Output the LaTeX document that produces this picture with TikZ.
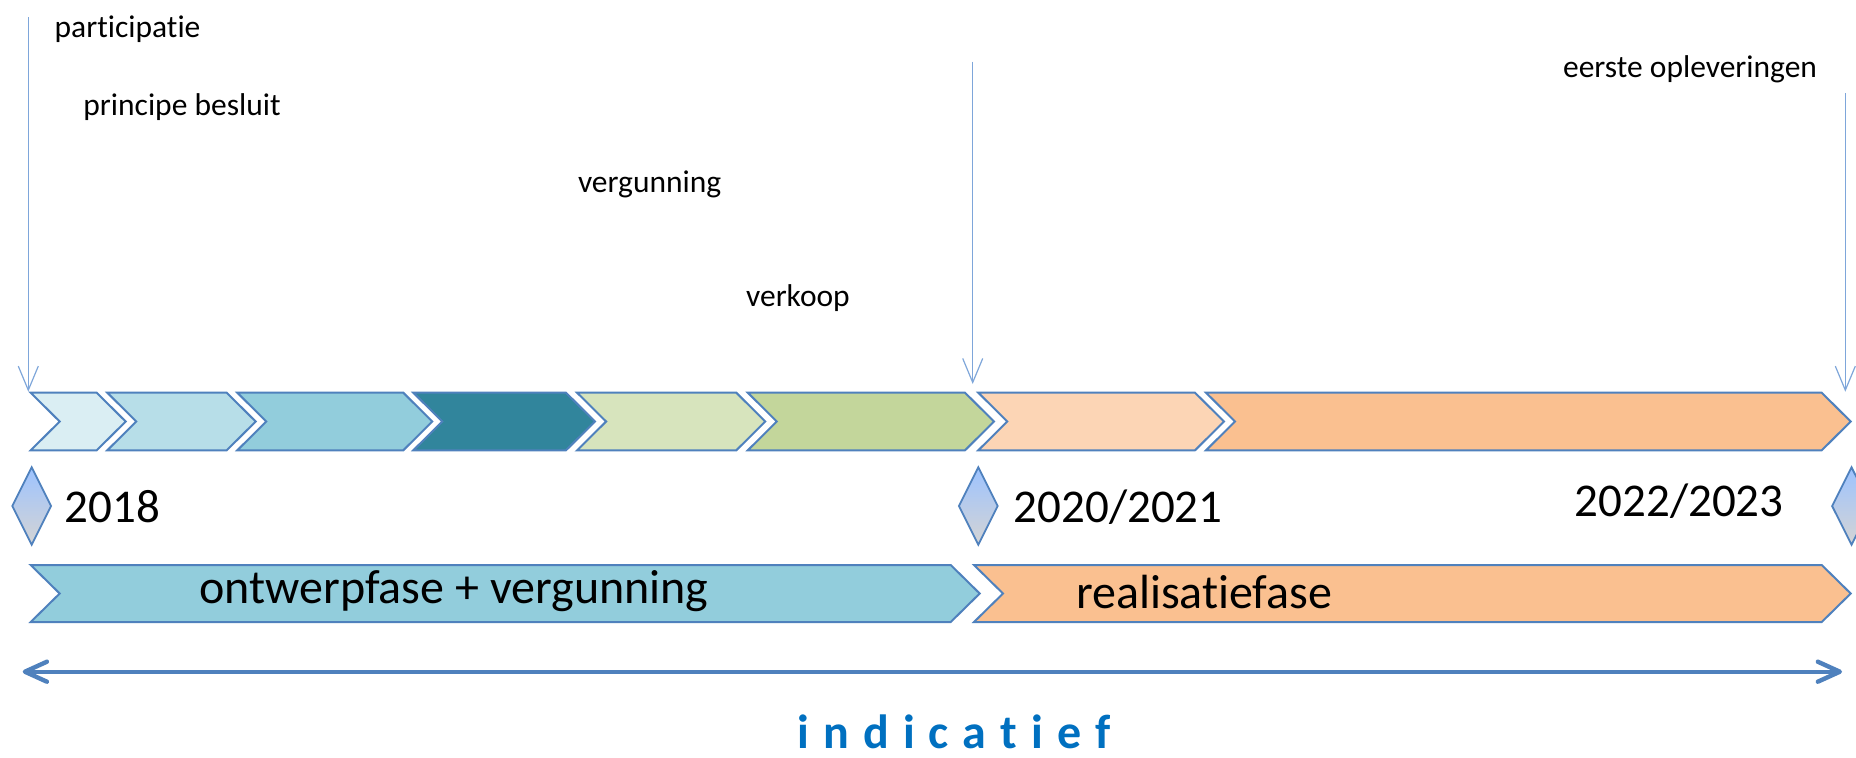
\documentclass[tikz,border=0pt]{standalone}
\usepackage{fontspec}
\setmainfont{Carlito}[Ligatures={TeX,NoCommon},RawFeature={-liga;-dlig}]
\usetikzlibrary{arrows.meta}
\definecolor{edge}{HTML}{4F81BD}
\definecolor{tick}{HTML}{7EA6DA}
\definecolor{cA}{HTML}{DAEEF3}
\definecolor{cB}{HTML}{B7DEE8}
\definecolor{cC}{HTML}{92CDDC}
\definecolor{cD}{HTML}{31859C}
\definecolor{cE}{HTML}{D7E4BD}
\definecolor{cF}{HTML}{C3D69B}
\definecolor{cG}{HTML}{FCD5B5}
\definecolor{cH}{HTML}{FAC090}
\definecolor{diatop}{HTML}{9DC3FF}
\definecolor{diabot}{HTML}{D4D4D4}
\definecolor{indic}{HTML}{0070C0}
\newcommand\mychev[5]{\path[chev,fill=#5] (#1,#3) -- (#2,#3) -- ({#2+29},{(#3+#4)/2}) -- (#2,#4) -- (#1,#4) -- ({#1+29},{(#3+#4)/2}) -- cycle;}
\newcommand\mydia[2]{\path[dia] (#1,{#2-38.7}) -- ({#1+19.4},#2) -- (#1,{#2+38.7}) -- ({#1-19.4},#2) -- cycle;}
\begin{document}
\begin{tikzpicture}[x=0.5pt,y=-0.5pt,
  chev/.style={draw=edge,line width=1pt,line join=miter},
  small/.style={font=\fontsize{15.75pt}{18pt}\selectfont, anchor=base west, inner sep=0pt},
  big/.style={font=\fontsize{23.5pt}{28pt}\selectfont, anchor=base west, inner sep=0pt},
  phase/.style={font=\fontsize{24pt}{28pt}\selectfont, anchor=base west, inner sep=0pt},
  marker/.style={draw=tick, line width=0.6pt, -{Straight Barb[length=12pt,width=10pt]}},
  dia/.style={draw=edge, line width=0.9pt, top color=diatop, bottom color=diabot},
  span/.style={draw=edge, line width=2.2pt, {Straight Barb[round,length=11pt,width=10pt]}-{Straight Barb[round,length=11pt,width=10pt]}}]
\clip (0,0) rectangle (1856,757);
\fill[white] (0,0) rectangle (1856,757);
% top row of chevrons
\mychev{30.7}{96.7}{392.7}{450.3}{cA}
\mychev{107.3}{226.7}{392.7}{450.3}{cB}
\mychev{237.3}{403.3}{392.7}{450.3}{cC}
\mychev{413.3}{566}{392.7}{450.3}{cD}
\mychev{577.1}{736.3}{392.7}{450.3}{cE}
\mychev{747.8}{965}{392.7}{450.3}{cF}
\mychev{978.3}{1195}{392.7}{450.3}{cG}
\mychev{1206}{1821.7}{392.7}{450.3}{cH}
% phase chevrons
\mychev{30.7}{950.7}{565}{622}{cC}
\mychev{974}{1821.7}{565}{622}{cH}
% diamonds
\mydia{31.7}{506}
\mydia{978.3}{506}
\mydia{1851.5}{506}
% texts
\node[small] (participatie) at (54.3,37.5) {part\kern0pt icipat\kern0pt ie};
\node[small] (principe) at (83,115.5) {principe besluit};
\node[small] (vergunning) at (577.6,192) {vergunning};
\node[small] (verkoop) at (745.7,306.5) {verkoop};
\node[small] (eerste) at (1562.7,77) {eerste opleveringen};
\node[big] (y2018) at (64.3,522.3) {2018};
\node[big] (y2020) at (1013.3,522.3) {2020/2021};
\node[big] (y2022) at (1574.3,516) {2022/2023};
\node[phase] (ontwerp) at (199.3,603) {ontwerpfase + vergunning};
\node[phase] (realisatie) at (1075.7,608) {realisatiefase};
\node[font=\bfseries\fontsize{24pt}{28pt}\selectfont, text=indic, anchor=base, inner sep=0pt] (indicatief) at (954,748)
  {i\kern7pt n\kern7pt d\kern7pt i\kern7pt c\kern7pt a\kern7pt t\kern7pt i\kern7pt e\kern7pt f};
% milestone markers
\coordinate (m1top) at (28.3,17);
\coordinate (m1tip) at (28.3,391.7);
\coordinate (m2top) at (972.7,61.5);
\coordinate (m2tip) at (972.7,384);
\coordinate (m3top) at (1845.3,93);
\coordinate (m3tip) at (1845.3,391.7);
\draw[marker] (m1top) -- (m1tip);
\draw[marker] (m2top) -- (m2tip);
\draw[marker] (m3top) -- (m3tip);
% span arrow
\coordinate (spanL) at (22.7,671.7);
\coordinate (spanR) at (1842,671.7);
\draw[span] (spanL) -- (spanR);
\end{tikzpicture}
\end{document}
